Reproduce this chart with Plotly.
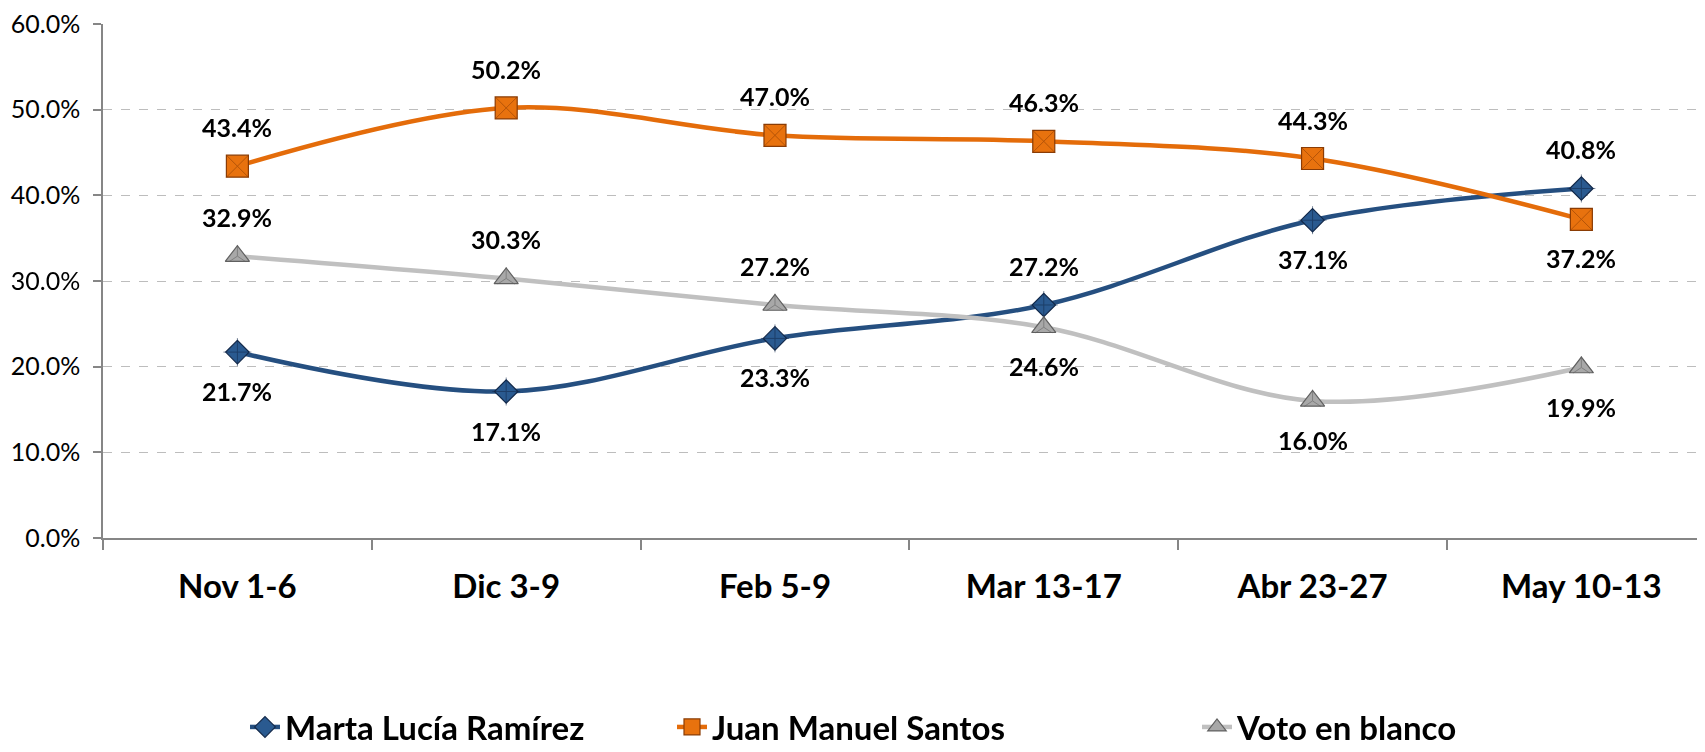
import plotly.graph_objects as go

categories = ["Nov 1-6", "Dic 3-9", "Feb 5-9", "Mar 13-17", "Abr 23-27", "May 10-13"]
marta = [21.7, 17.1, 23.3, 27.2, 37.1, 40.8]
santos = [43.4, 50.2, 47.0, 46.3, 44.3, 37.2]
blanco = [32.9, 30.3, 27.2, 24.6, 16.0, 19.9]
# label position: +1 above, -1 below
marta_pos = [-1, -1, -1, 1, -1, 1]
santos_pos = [1, 1, 1, 1, 1, -1]
blanco_pos = [1, 1, 1, -1, -1, -1]
y_ticks = [0, 10, 20, 30, 40, 50, 60]

FONT = "Lato"
# page body has an 8px default margin; figure size compensates for it
W, H = 1697, 744
OFF = 8

series = [
    dict(name="Marta Lucía Ramírez", y=marta, pos=marta_pos, color="#254F80",
         symbol="diamond", size=18, fill="#2A5A90", edge="#13294A", bevel="cross-thin", bsize=20, legend="legend"),
    dict(name="Juan Manuel Santos", y=santos, pos=santos_pos, color="#E46C0A",
         symbol="square", size=22, fill="#E8720E", edge="#8A3C05", bevel="x-thin", bsize=22, legend="legend2"),
    dict(name="Voto en blanco", y=blanco, pos=blanco_pos, color="#C0C0C0",
         symbol="triangle-up", size=21, fill="#A8A8A8", edge="#606060", bevel="y-up", bsize=14, legend="legend3"),
]

fig = go.Figure()
annotations = []
for s in series:
    fig.add_trace(go.Scatter(
        x=categories, y=s["y"], mode="lines+markers", name=s["name"], legend=s["legend"],
        line=dict(color=s["color"], width=4.5, shape="spline", smoothing=1.0),
        marker=dict(symbol=s["symbol"], size=s["size"], color=s["fill"],
                    line=dict(color=s["edge"], width=1.2)),
        hoverinfo="skip",
    ))
    fig.add_trace(go.Scatter(
        x=categories, y=s["y"], mode="markers", showlegend=False,
        marker=dict(symbol=s["bevel"], size=s["bsize"], color=s["edge"],
                    line=dict(color=s["edge"], width=1)),
        opacity=0.55, hoverinfo="skip",
    ))
    for xi, yi, p in zip(categories, s["y"], s["pos"]):
        annotations.append(dict(
            x=xi, y=yi, xref="x", yref="y", text=f"{yi:.1f}%", showarrow=False,
            yshift=39 * p, font=dict(family=FONT, size=25, color="#000000", weight="bold"),
        ))

legend_font = dict(family=FONT, size=33, color="#000", weight="bold")
common_leg = dict(orientation="h", xanchor="left", yanchor="middle", yref="container",
                  y=(H - 719) / H, font=legend_font, bgcolor="rgba(0,0,0,0)",
                  borderwidth=0, xref="container")
fig.update_layout(
    width=W, height=H,
    margin=dict(l=103 - OFF, r=0, t=24 - OFF, b=H - (538 - OFF), autoexpand=False),
    paper_bgcolor="white", plot_bgcolor="white",
    annotations=annotations,
    font=dict(family=FONT, color="#000000"),
    legend=dict(common_leg, x=(285 - OFF - 40) / W),
    legend2=dict(common_leg, x=(712 - OFF - 40) / W),
    legend3=dict(common_leg, x=(1237 - OFF - 40) / W),
)

fig.update_xaxes(
    type="category", range=[-0.5, 5.46],
    tickson="boundaries", ticks="outside", ticklen=10, tickcolor="#868686", tickwidth=1.5,
    showline=True, linecolor="#868686", linewidth=1.5, showgrid=False, zeroline=False,
    tickfont=dict(family=FONT, size=33, color="#000000", weight="bold"),
    ticklabelstandoff=19, automargin=False,
)
fig.update_yaxes(
    range=[0, 60], tickmode="array", tickvals=y_ticks,
    ticktext=[f"{v:.1f}%" for v in y_ticks],
    ticks="outside", ticklen=8, tickcolor="#868686", tickwidth=1.5,
    showline=True, linecolor="#868686", linewidth=1.5,
    showgrid=True, gridcolor="#BDBDBD", griddash="dash", gridwidth=1.2, zeroline=False,
    tickfont=dict(family=FONT, size=25, color="#000000"),
    ticklabelstandoff=8, ticklabeloverflow="allow", automargin=False,
)

fig.write_html("out.html")
